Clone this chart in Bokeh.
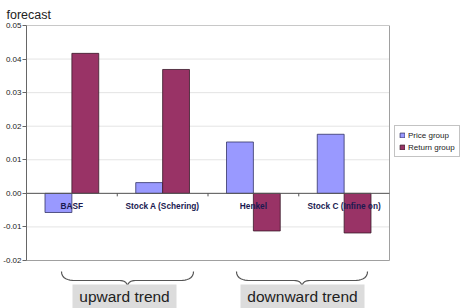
import numpy as np
from bokeh.plotting import figure
from bokeh.models import (ColumnDataSource, Range1d, FixedTicker, NumeralTickFormatter,
                          Legend, LegendItem, Title)
from bokeh.transform import dodge
from bokeh.core.properties import value
from bokeh.embed import file_html
from bokeh.resources import INLINE

categories = ["BASF", "Stock A (Schering)", "Henkel", "Stock C (Infine on)"]
price_group = [-0.0057, 0.0032, 0.0153, 0.0176]
return_group = [0.0417, 0.0369, -0.0112, -0.0118]
y_ticks = [-0.02, -0.01, 0.0, 0.01, 0.02, 0.03, 0.04, 0.05]
trend_labels = ["upward trend", "downward trend"]

FONT = "Liberation Sans"
YMIN, YMAX = -0.02, 0.05
N = len(categories)

# frame: x 25..460 px, y 25..308 px; plot area (0..N, YMIN..YMAX) occupies 25..388 x 25..260
px_per_x = 363 / N
px_per_y = 235 / (YMAX - YMIN)
x_hi = N + 72 / px_per_x
y_lo = YMIN - 48 / px_per_y

xpos = [i + 0.5 for i in range(N)]
src = ColumnDataSource(dict(x=xpos, cat=categories, price=price_group, ret=return_group,
                            zero=[0.0] * N))

p = figure(frame_width=435, frame_height=283, output_backend="svg", toolbar_location=None,
           x_range=Range1d(0, x_hi), y_range=Range1d(y_lo, YMAX),
           min_border_left=25, min_border_right=0, min_border_top=25, min_border_bottom=0)
p.outline_line_color = None
p.xaxis.visible = False
p.grid.visible = False
p.yaxis.ticker = FixedTicker(ticks=y_ticks)
p.yaxis.bounds = (YMIN, YMAX)
p.yaxis.formatter = NumeralTickFormatter(format="0.00")
p.yaxis.major_label_text_font = FONT
p.yaxis.major_label_text_font_size = "8px"
p.yaxis.major_label_text_color = "#222222"
p.yaxis.axis_line_color = "#666666"
p.yaxis.major_tick_line_color = "#666666"
p.yaxis.major_tick_out = 4
p.yaxis.major_tick_in = 0
p.yaxis.minor_tick_line_color = None
p.yaxis.major_label_standoff = 1

title = Title(text="forecast", align="left", offset=-20, standoff=7,
              text_font=FONT, text_font_size="12.5px", text_font_style="normal",
              text_color="#222222")
p.add_layout(title, "above")

# grid lines and plot-area border
p.segment(x0=0, x1=N, y0=y_ticks[1:], y1=y_ticks[1:], line_color="#e4e4e4", line_width=1)
p.quad(left=0, right=N, bottom=YMIN, top=YMAX, fill_alpha=0, line_color="#a0a0a0",
       line_width=1)

r1 = p.vbar(x=dodge("x", -0.148), top="price", width=0.296, source=src,
            fill_color="#9999ff", line_color="#333366", line_width=0.8)
r2 = p.vbar(x=dodge("x", 0.148), top="ret", width=0.296, source=src,
            fill_color="#993366", line_color="#3a1a2a", line_width=0.8)

# category axis at zero
p.segment(x0=0, x1=N, y0=0, y1=0, line_color="#555555", line_width=1)
p.segment(x0=[1, 2, 3], x1=[1, 2, 3], y0=0, y1=-3 / px_per_y, line_color="#555555",
          line_width=1)
p.text(x="x", y="zero", text="cat", source=src, y_offset=13, text_align="center",
       text_baseline="middle", text_font=value(FONT), text_font_size="8.3px",
       text_font_style="bold", text_color="#1a1a50")

legend = Legend(items=[LegendItem(label="Price group", renderers=[r1]),
                       LegendItem(label="Return group", renderers=[r2])],
                location=(368, 151), label_text_font=FONT, label_text_font_size="8px",
                label_text_color="#222222", glyph_width=6, glyph_height=6,
                label_height=10, label_standoff=3, spacing=2, padding=4, margin=0,
                border_line_color="#888888", border_line_width=1,
                background_fill_color="white")
p.add_layout(legend, "center")

# braces and trend labels below the plot area
def ypx(py):
    return YMAX - (py - 25) / px_per_y

def xpx(px):
    return (px - 25) / px_per_x

def brace(x0, x1, ytop, ymid, ybot, dx, dc):
    xc = (x0 + x1) / 2
    t = np.linspace(0, 1, 10)
    def q(a, c, b):
        return list((1 - t) ** 2 * a[0] + 2 * (1 - t) * t * c[0] + t ** 2 * b[0]), \
               list((1 - t) ** 2 * a[1] + 2 * (1 - t) * t * c[1] + t ** 2 * b[1])
    xs, ys = [], []
    for a, c, b_ in [((x0, ytop), (x0, ymid), (x0 + dx, ymid)),
                     ((xc - dc, ymid), (xc, ymid), (xc, ybot)),
                     ((xc, ybot), (xc, ymid), (xc + dc, ymid)),
                     ((x1 - dx, ymid), (x1, ymid), (x1, ytop))]:
        qx, qy = q(a, c, b_)
        xs += qx; ys += qy
    p.line(xs, ys, line_color="#555555", line_width=1.2)

for l, r in [(60, 192), (235, 366)]:
    brace(xpx(l), xpx(r), ypx(271), ypx(280), ypx(287), 14 / px_per_x, 8 / px_per_x)

p.quad(left=[xpx(71), xpx(239)], right=[xpx(175), xpx(363)],
       top=ypx(284), bottom=ypx(310), fill_color="#dcdcdc", line_color=None)
p.text(x=[xpx(123), xpx(301)], y=ypx(296), text=trend_labels, text_align="center",
       text_baseline="middle", text_font=value(FONT), text_font_size="15.5px",
       text_color="#222222")

open("out.html", "w").write(file_html(p, INLINE))
